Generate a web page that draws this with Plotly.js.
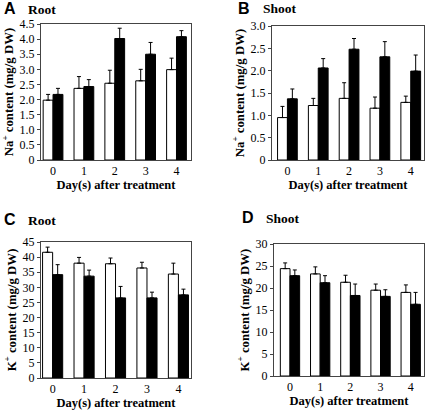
<!DOCTYPE html>
<html>
<head>
<meta charset="utf-8">
<script src="https://cdn.plot.ly/plotly-3.0.1.min.js"></script>
<style>html,body{margin:0;padding:0;background:#fff;}#chart{width:428px;height:410px;}</style>
</head>
<body>
<div id="chart"></div>
<script>
// ---- data ----
const days = [0, 1, 2, 3, 4];
const dayLabels = ['0', '1', '2', '3', '4'];

// A: Na+ root
const naRootWhite = [1.98, 2.37, 2.54, 2.62, 2.99];
const naRootWhiteErr = [0.19, 0.39, 0.43, 0.38, 0.38];
const naRootBlack = [2.17, 2.43, 4.02, 3.50, 4.08];
const naRootBlackErr = [0.20, 0.23, 0.34, 0.39, 0.20];

// B: Na+ shoot
const naShootWhite = [0.95, 1.22, 1.38, 1.16, 1.29];
const naShootWhiteErr = [0.25, 0.16, 0.35, 0.25, 0.14];
const naShootBlack = [1.37, 2.06, 2.48, 2.31, 1.99];
const naShootBlackErr = [0.22, 0.21, 0.24, 0.34, 0.36];

// C: K+ root
const kRootWhite = [41.6, 38.0, 37.8, 36.4, 34.4];
const kRootWhiteErr = [1.7, 1.9, 1.9, 1.9, 3.6];
const kRootBlack = [34.2, 33.7, 26.5, 26.5, 27.5];
const kRootBlackErr = [3.3, 2.0, 3.8, 1.9, 1.9];

// D: K+ shoot
const kShootWhite = [24.4, 23.2, 21.3, 19.5, 19.0];
const kShootWhiteErr = [1.3, 1.6, 1.6, 1.4, 1.7];
const kShootBlack = [22.8, 21.2, 18.3, 18.1, 16.3];
const kShootBlackErr = [1.3, 1.6, 2.6, 1.5, 2.7];

// tick labels
const naRootTicks = [0, 0.5, 1.0, 1.5, 2.0, 2.5, 3.0, 3.5, 4.0, 4.5];
const naRootTickText = ['0', '0.5', '1.0', '1.5', '2.0', '2.5', '3.0', '3.5', '4.0', '4.5'];
const naShootTicks = [0, 0.5, 1.0, 1.5, 2.0, 2.5, 3.0];
const naShootTickText = ['0', '0.5', '1.0', '1.5', '2.0', '2.5', '3.0'];
const kRootTicks = [0, 5, 10, 15, 20, 25, 30, 35, 40, 45];
const kShootTicks = [0, 5, 10, 15, 20, 25, 30];

const xTitle = 'Day(s) after treatment';
const naTitle = 'Na<sup>+</sup> content (mg/g DW)';
const kTitle = 'K<sup>+</sup> content (mg/g DW)';

// ---- styling ----
const SERIF = 'Liberation Serif, Times New Roman, serif';
const SANS = 'Liberation Sans, Arial, sans-serif';

function barPair(white, wErr, black, bErr, xa, ya) {
  const errStyle = {type: 'data', symmetric: false, arrayminus: days.map(() => 0), color: '#000', thickness: 1, width: 2};
  return [
    {type: 'bar', x: days, y: white, xaxis: xa, yaxis: ya, showlegend: false,
     marker: {color: '#fff', line: {color: '#000', width: 1}},
     error_y: Object.assign({}, errStyle, {array: wErr})},
    {type: 'bar', x: days, y: black, xaxis: xa, yaxis: ya, showlegend: false,
     marker: {color: '#000', line: {color: '#000', width: 1}},
     error_y: Object.assign({}, errStyle, {array: bErr})}
  ];
}

const data = [].concat(
  barPair(naRootWhite, naRootWhiteErr, naRootBlack, naRootBlackErr, 'x', 'y'),
  barPair(naShootWhite, naShootWhiteErr, naShootBlack, naShootBlackErr, 'x2', 'y2'),
  barPair(kRootWhite, kRootWhiteErr, kRootBlack, kRootBlackErr, 'x3', 'y3'),
  barPair(kShootWhite, kShootWhiteErr, kShootBlack, kShootBlackErr, 'x4', 'y4')
);

const W = 428, H = 410;
const px = v => v / W;
const py = v => 1 - v / H;

function xAx(l, r, range, anchor) {
  return {domain: [px(l), px(r)], range: range, anchor: anchor,
    tickvals: days, ticktext: dayLabels, ticks: '', showgrid: false, zeroline: false,
    showline: true, mirror: true, linecolor: '#444', linewidth: 1,
    tickfont: {family: SERIF, size: 12, color: '#000'},
    title: {text: xTitle, font: {family: SERIF, size: 12.5, color: '#000', weight: 'bold'}, standoff: 2}};
}
function yAx(t, b, range, tv, tt, title, anchor) {
  return {domain: [py(b), py(t)], range: range, anchor: anchor,
    tickvals: tv, ticktext: tt, ticks: 'outside', ticklen: 3, tickcolor: '#444',
    showgrid: false, zeroline: false,
    showline: true, mirror: true, linecolor: '#444', linewidth: 1,
    tickfont: {family: SERIF, size: 12, color: '#000'},
    title: {text: title, font: {family: SERIF, size: 12.8, color: '#000', weight: 'bold'}, standoff: 3}};
}

const layout = {
  width: W, height: H,
  margin: {l: 0, r: 0, t: 0, b: 0},
  paper_bgcolor: '#fff', plot_bgcolor: '#fff',
  barmode: 'group', bargap: 0.36, bargroupgap: 0,
  xaxis: xAx(41, 191, [-0.39, 4.47], 'y'),
  yaxis: yAx(24, 160, [0, 4.5], naRootTicks, naRootTickText, naTitle, 'x'),
  xaxis2: xAx(272, 424, [-0.5, 4.43], 'y2'),
  yaxis2: yAx(26, 160, [0, 3.0], naShootTicks, naShootTickText, naTitle, 'x2'),
  xaxis3: xAx(41, 191, [-0.37, 4.40], 'y3'),
  yaxis3: yAx(242, 378, [0, 45], kRootTicks, kRootTicks.map(String), kTitle, 'x3'),
  xaxis4: xAx(274, 424, [-0.53, 4.44], 'y4'),
  yaxis4: yAx(244, 376, [0, 30], kShootTicks, kShootTicks.map(String), kTitle, 'x4'),
  annotations: [
    {text: 'A', x: px(2), y: py(8), xanchor: 'left', yanchor: 'middle', font: {family: SANS, size: 16, color: '#000', weight: 'bold'}},
    {text: 'Root', x: px(26), y: py(9), xanchor: 'left', yanchor: 'middle', font: {family: SERIF, size: 13.5, color: '#000', weight: 'bold'}},
    {text: 'B', x: px(236), y: py(8), xanchor: 'left', yanchor: 'middle', font: {family: SANS, size: 16, color: '#000', weight: 'bold'}},
    {text: 'Shoot', x: px(261), y: py(8), xanchor: 'left', yanchor: 'middle', font: {family: SERIF, size: 13.5, color: '#000', weight: 'bold'}},
    {text: 'C', x: px(2), y: py(219), xanchor: 'left', yanchor: 'middle', font: {family: SANS, size: 16, color: '#000', weight: 'bold'}},
    {text: 'Root', x: px(26), y: py(220), xanchor: 'left', yanchor: 'middle', font: {family: SERIF, size: 13.5, color: '#000', weight: 'bold'}},
    {text: 'D', x: px(240), y: py(217), xanchor: 'left', yanchor: 'middle', font: {family: SANS, size: 16, color: '#000', weight: 'bold'}},
    {text: 'Shoot', x: px(264), y: py(218), xanchor: 'left', yanchor: 'middle', font: {family: SERIF, size: 13.5, color: '#000', weight: 'bold'}}
  ].map(a => Object.assign({xref: 'paper', yref: 'paper', showarrow: false}, a))
};

Plotly.newPlot('chart', data, layout, {staticPlot: true, displayModeBar: false});
</script>
</body>
</html>
